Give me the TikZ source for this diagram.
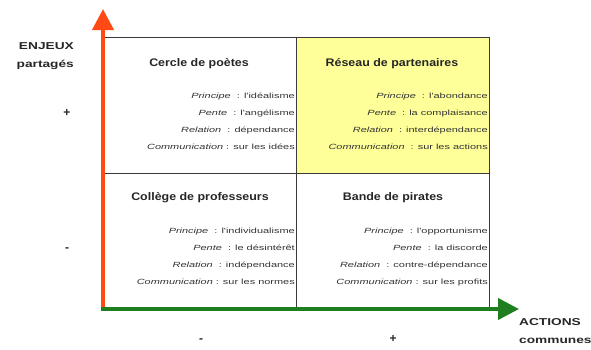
\documentclass[tikz,border=0pt]{standalone}
\usepackage{fontspec}
\setmainfont{Liberation Sans}
\newfontfamily\detfont[FakeStretch=1.46]{Liberation Sans}
\newfontfamily\titfont[FakeStretch=1.13]{Liberation Sans}
\newfontfamily\labfont[FakeStretch=1.37]{Liberation Sans}
\usetikzlibrary{arrows.meta}
\definecolor{axred}{HTML}{FF4A14}
\definecolor{axgreen}{HTML}{1F7F1F}
\definecolor{cellyellow}{HTML}{FFFF99}
\definecolor{gridgray}{HTML}{3A3A3A}
\tikzset{
  cell/.style={draw=gridgray, line width=1.4pt, minimum width=193pt, minimum height=135.5pt, inner sep=0pt, anchor=north west},
  title/.style={font=\titfont\fontsize{11}{12}\selectfont\bfseries, text=black!85},
  details/.style={font=\detfont\fontsize{7.5}{16.8}\selectfont, align=right, anchor=north east, inner sep=0pt, text=black!80},
  axlabel/.style={font=\labfont\fontsize{10}{18}\selectfont\bfseries, text=black!85, align=right, inner sep=0pt},
  sign/.style={font=\fontsize{12}{12}\selectfont\bfseries, text=black!85, inner sep=0pt},
  axis/.style={line width=4pt, -{Triangle[width=21pt,length=21pt]}}
}
\newcommand{\lbl}[1]{\textit{#1}}
\begin{document}
\begin{tikzpicture}[x=1pt,y=-1pt]
\useasboundingbox (0,0) rectangle (591,349);
% cells
\node[cell] (c1) at (103,37) {};
\node[cell, fill=cellyellow] (c2) at (296,37) {};
\node[cell] (c3) at (103,172.5) {};
\node[cell] (c4) at (296,172.5) {};
% titles
\node[title] (t1) at (199,64) {Cercle de poètes};
\node[title] (t2) at (392,64) {Réseau de partenaires};
\node[title] (t3) at (200,198) {Collège de professeurs};
\node[title] (t4) at (393,198) {Bande de pirates};
% details
\node[details] (d1) at (295,93) {\lbl{Principe} \ : l'idéalisme\\ \lbl{Pente} \ : l'angélisme\\ \lbl{Relation} \ : dépendance\\ \lbl{Communication} : sur les idées};
\node[details] (d2) at (488,93) {\lbl{Principe} \ : l'abondance\\ \lbl{Pente} \ : la complaisance\\ \lbl{Relation} \ : interdépendance\\ \lbl{Communication} \ : sur les actions};
\node[details] (d3) at (295,228) {\lbl{Principe} \ : l'individualisme\\ \lbl{Pente} \ : le désintérêt\\ \lbl{Relation} \ : indépendance\\ \lbl{Communication} : sur les normes};
\node[details] (d4) at (488,228) {\lbl{Principe} \ : l'opportunisme\\ \lbl{Pente} \ : la discorde\\ \lbl{Relation} \ : contre-dépendance\\ \lbl{Communication} : sur les profits};
% axes
\coordinate (o) at (103,309);
\coordinate (ytip) at (103,9);
\coordinate (xtip) at (519,309);
\draw[axis, axred] (o) -- (ytip);
\draw[axis, axgreen] ([xshift=-2pt]o) -- (xtip);
% axis labels
\node[axlabel, anchor=north east] (ylab) at (74,42) {ENJEUX\\partagés};
\node[axlabel, anchor=north west, align=left] (xlab) at (519,318) {ACTIONS\\communes};
\node[sign] (yp) at (67,113) {+};
\node[sign] (ym) at (67,250) {-};
\node[sign] (xm) at (201,341) {-};
\node[sign] (xp) at (393,339) {+};
\end{tikzpicture}
\end{document}
